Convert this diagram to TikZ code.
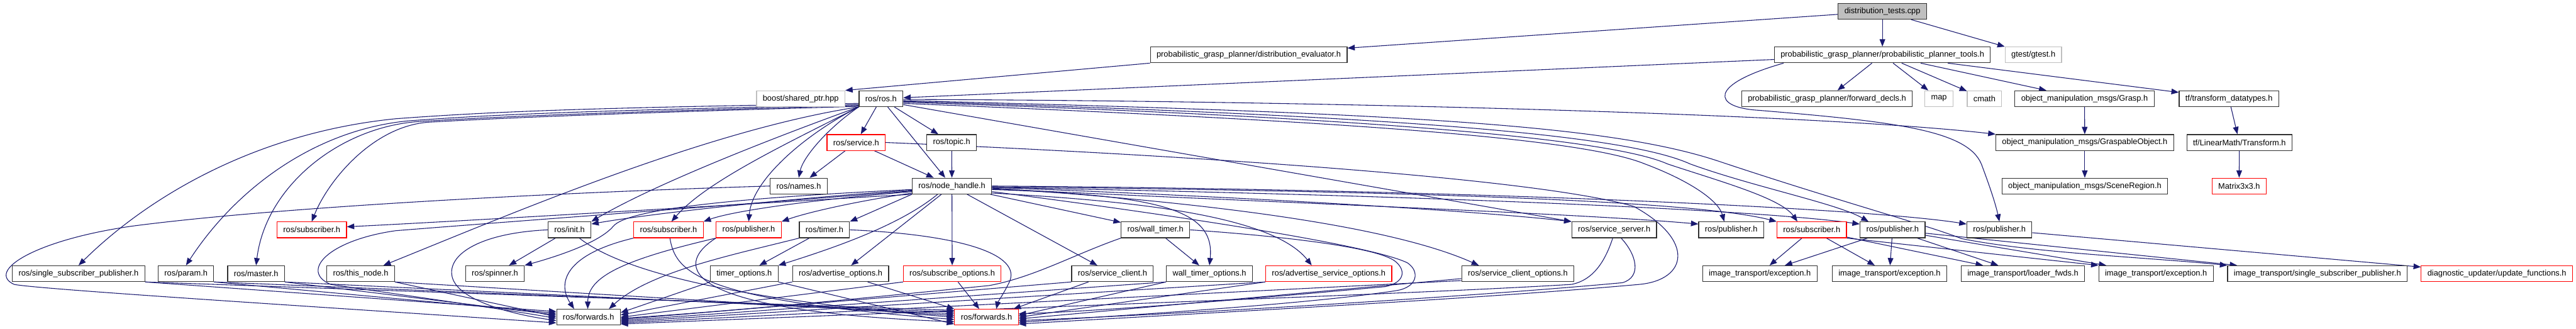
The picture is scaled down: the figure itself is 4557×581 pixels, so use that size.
\documentclass[tikz,border=0pt]{standalone}
\usepackage{fontspec}
\setmainfont{Liberation Sans}
\usetikzlibrary{arrows.meta}
\definecolor{edgeblue}{HTML}{191970}
\definecolor{boxred}{HTML}{FF0000}
\definecolor{boxgray}{HTML}{BFBFBF}
\definecolor{boxblack}{HTML}{303030}
\pgfdeclarelayer{bg}
\pgfsetlayers{bg,main}
\begin{document}
\begin{tikzpicture}[x=1pt,y=-1pt,
  nd/.style={draw=boxblack, line width=1.3pt, fill=white, minimum height=28pt, inner xsep=11pt, inner ysep=0pt, font=\fontsize{14.3}{16}\selectfont},
  rd/.style={nd, draw=boxred},
  gy/.style={nd, draw=boxgray},
  e/.style={draw=edgeblue, line width=1.2pt, -{Triangle[length=13pt,width=10pt]}}]
\useasboundingbox (0,0) rectangle (4557,581);
% rank 0
\node[nd, fill=boxgray] (dtests) at (3330,20) {distribution\_tests.cpp};
% rank 1
\node[nd] (disteval) at (2209,97) {probabilistic\_grasp\_planner/distribution\_evaluator.h};
\node[nd] (ptools) at (3330,97) {probabilistic\_grasp\_planner/probabilistic\_planner\_tools.h};
\node[gy] (gtest) at (3597,97) {gtest/gtest.h};
% rank 2
\node[gy] (boost) at (1416.5,174.5) {boost/shared\_ptr.hpp};
\node[nd] (rosh) at (1558.5,174.5) {ros/ros.h};
\node[nd] (fwdecl) at (3232,174.5) {probabilistic\_grasp\_planner/forward\_decls.h};
\node[gy] (map) at (3430,174.5) {map};
\node[gy] (cmath) at (3510.5,174.5) {cmath};
\node[nd] (grasp) at (3687.5,174.5) {object\_manipulation\_msgs/Grasp.h};
\node[nd] (tfdt) at (3943,174.5) {tf/transform\_datatypes.h};
% rank 3
\node[rd] (service) at (1514.5,252) {ros/service.h};
\node[nd] (topic) at (1683.5,252) {ros/topic.h};
\node[nd] (graspable) at (3688,252) {object\_manipulation\_msgs/GraspableObject.h};
\node[nd] (tflm) at (3961.5,252) {tf/LinearMath/Transform.h};
% rank 4
\node[nd] (names) at (1413,329) {ros/names.h};
\node[nd] (nh) at (1684,329) {ros/node\_handle.h};
\node[nd] (scene) at (3688,329) {object\_manipulation\_msgs/SceneRegion.h};
\node[rd] (matrix) at (3961,329) {Matrix3x3.h};
% rank 5
\node[rd] (subL) at (551.5,406.5) {ros/subscriber.h};
\node[nd] (init) at (1007.5,406.5) {ros/init.h};
\node[rd] (subM) at (1182.5,406.5) {ros/subscriber.h};
\node[rd] (pubM) at (1324.5,406.5) {ros/publisher.h};
\node[nd] (timer) at (1458.5,406.5) {ros/timer.h};
\node[nd] (walltimer) at (2044,406.5) {ros/wall\_timer.h};
\node[nd] (srvserver) at (2855.5,406.5) {ros/service\_server.h};
\node[nd] (pubA) at (3062.5,406.5) {ros/publisher.h};
\node[rd] (subR) at (3205,406.5) {ros/subscriber.h};
\node[nd] (pubB) at (3348,406.5) {ros/publisher.h};
\node[nd] (pubC) at (3537,406.5) {ros/publisher.h};
% rank 6
\node[nd] (ssp) at (139,484) {ros/single\_subscriber\_publisher.h};
\node[nd] (param) at (329,484) {ros/param.h};
\node[nd] (master) at (453,484) {ros/master.h};
\node[nd] (thisnode) at (638,484) {ros/this\_node.h};
\node[nd] (spinner) at (875.5,484) {ros/spinner.h};
\node[nd] (timeropt) at (1316.5,484) {timer\_options.h};
\node[nd] (advopt) at (1487,484) {ros/advertise\_options.h};
\node[rd] (subopt) at (1684.5,484) {ros/subscribe\_options.h};
\node[nd] (srvclient) at (1968,484) {ros/service\_client.h};
\node[nd] (wtopt) at (2139.5,484) {wall\_timer\_options.h};
\node[rd] (advsrvopt) at (2350.5,484) {ros/advertise\_service\_options.h};
\node[nd] (srvcliopt) at (2685,484) {ros/service\_client\_options.h};
\node[nd] (exc1) at (3113,484) {image\_transport/exception.h};
\node[nd] (exc2) at (3342.5,484) {image\_transport/exception.h};
\node[nd] (loader) at (3578.5,484) {image\_transport/loader\_fwds.h};
\node[nd] (exc4) at (3814,484) {image\_transport/exception.h};
\node[nd] (imgssp) at (4099.5,484) {image\_transport/single\_subscriber\_publisher.h};
\node[rd] (diag) at (4417,484) {diagnostic\_updater/update\_functions.h};
% rank 7
\node[nd] (fwdB) at (1041,561) {ros/forwards.h};
\node[rd] (fwdR) at (1745,561) {ros/forwards.h};

\begin{pgfonlayer}{bg}
\fill[white] (0,0) rectangle (4557,581);
% top part
\draw[e] (dtests) -- (disteval);
\draw[e] (dtests) -- (ptools);
\draw[e] (dtests) -- (gtest);
\draw[e] (disteval.south west) -- (boost.north east);
\draw[e] (ptools) -- (rosh);
\draw[e] (ptools) -- (fwdecl);
\draw[e] (ptools) -- (map);
\draw[e] (ptools) -- (cmath);
\draw[e] (ptools) -- (grasp);
\draw[e] (ptools) -- (tfdt);
\draw[e] (grasp) -- (graspable);
\draw[e] (graspable) -- (scene);
\draw[e] (tfdt) -- (tflm);
\draw[e] (tflm) -- (matrix);
\draw[e] ([xshift=17pt]ptools.south west) .. controls (3020,150) and (3030,190) .. (3110,195) .. controls (3350,215) and (3480,230) .. (3505,290) .. controls (3520,330) and (3530,360) .. (pubC.north);
% ros.h
\draw[e] (rosh) -- (service);
\draw[e] (rosh) -- (nh);
\draw[e] (rosh) -- (topic);
\draw[e] (rosh.-15) -- (srvserver.north west);
\draw[e] (rosh.-2) .. controls (2300,178) and (3200,200) .. (graspable.north west);
\draw[e] (rosh.-5) .. controls (2500,200) and (2850,222) .. (3040,285) .. controls (3250,355) and (3400,395) .. (3470,422) .. controls (3600,448) and (3800,455) .. (imgssp.north west);
\draw[e] (rosh.-7) .. controls (2500,205) and (2880,240) .. (2990,290) .. controls (3100,330) and (3250,360) .. (pubB.161);
\draw[e] (rosh.-9) .. controls (2500,210) and (2860,250) .. (2950,290) .. controls (3040,320) and (3150,350) .. (subR.150);
\draw[e] (rosh.-12) .. controls (2400,215) and (2800,245) .. (2910,290) .. controls (2990,320) and (3040,355) .. (pubA.130);
\draw[e] (rosh.192) .. controls (1100,190) and (900,195) .. (700,210) .. controls (450,235) and (260,350) .. (ssp.north);
\draw[e] (rosh.195) .. controls (1100,195) and (900,200) .. (720,214) .. controls (560,230) and (420,330) .. (param.north);
\draw[e] (rosh.197) .. controls (1100,198) and (900,205) .. (740,215) .. controls (600,225) and (470,330) .. (master.north);
\draw[e] (rosh.199) .. controls (1100,200) and (900,208) .. (760,216) .. controls (660,222) and (580,320) .. (subL.north);
\draw[e] (rosh.south west) .. controls (1250,230) and (900,380) .. (thisnode.20);
\draw[e] (rosh.south west) .. controls (1350,250) and (1150,330) .. (init.north east);
\draw[e] (rosh.south west) .. controls (1400,250) and (1250,320) .. (subM.70);
\draw[e] (rosh.south west) .. controls (1420,240) and (1330,320) .. (pubM.north);
\draw[e] (rosh.south west) .. controls (1460,230) and (1420,280) .. (names.north);
% service, topic
\draw[e] (service) -- (names);
\draw[e] (service) -- (nh);
\draw[e] (topic) -- (nh);
\draw[e] (service.east) .. controls (2000,270) and (2700,310) .. (2890,365) .. controls (3000,425) and (2985,495) .. (2900,503) .. controls (2600,530) and (2100,555) .. (fwdR.-12);
% node_handle
\draw[e] (nh.186) .. controls (1400,350) and (1150,378) .. (init.15);
\draw[e] (nh.188) .. controls (1450,352) and (1300,372) .. (subM.north east);
\draw[e] (nh.190) .. controls (1520,355) and (1430,375) .. (pubM.north east);
\draw[e] (nh.185) .. controls (1300,350) and (1110,370) .. (1085,400) .. controls (1060,430) and (980,455) .. (spinner.north east);
\draw[e] (nh.south west) .. controls (1200,368) and (800,392) .. (subL.5);
\draw[e] (nh.south west) -- (timer.north east);
\draw[e] (nh) -- (advopt);
\draw[e] (nh.-150) .. controls (1590,400) and (1470,440) .. (timeropt.north east);
\draw[e] (nh) -- (subopt);
\draw[e] (nh) -- (srvclient);
\draw[e] (nh) -- (walltimer);
\draw[e] (nh.-5) .. controls (2050,345) and (2150,370) .. (wtopt.north);
\draw[e] (nh.-10) .. controls (2000,355) and (2250,380) .. (advsrvopt.154);
\draw[e] (nh.-3) .. controls (2100,355) and (2450,395) .. (srvcliopt.168);
\draw[e] (nh.-2) .. controls (2200,348) and (2600,372) .. (srvserver.north west);
\draw[e] (nh.-4) .. controls (2300,360) and (2800,378) .. (pubA.170);
\draw[e] (nh.-1) .. controls (2500,338) and (3000,355) .. (subR.north west);
\draw[e] (nh.-2) .. controls (2500,345) and (3100,370) .. (pubB.170);
\draw[e] (nh.0) .. controls (2600,335) and (3300,368) .. (pubC.170);
\draw[e] (nh.187) .. controls (1200,370) and (900,392) .. (700,408) .. controls (580,425) and (530,480) .. (585,503) .. controls (700,520) and (880,545) .. (fwdB.182);
\draw[e] (nh.-8) .. controls (2000,370) and (2420,430) .. (2490,465) .. controls (2512,480) and (2508,508) .. (2470,514) .. controls (2300,540) and (1950,560) .. (fwdR.-9);
% names
\draw[e] (names.west) .. controls (1000,340) and (500,365) .. (233,400) .. controls (60,425) and (-25,480) .. (25,503) .. controls (70,512) and (600,545) .. (fwdB.190);
% init
\draw[e] (init) -- (spinner);
\draw[e] (init.west) .. controls (850,412) and (790,450) .. (800,490) .. controls (810,530) and (900,555) .. (fwdB.186);
\draw[e] (init.-40) .. controls (1100,480) and (1300,530) .. (fwdR.180);
% subscriber / publisher (middle)
\draw[e] (subM.south west) .. controls (1000,450) and (985,500) .. (fwdB.150);
\draw[e] (subM.-80) .. controls (1195,480) and (1230,530) .. (fwdR.184);
\draw[e] (pubM.south west) .. controls (1100,460) and (1040,490) .. (fwdB.95);
\draw[e] (pubM.south west) .. controls (1190,470) and (1200,550) .. (fwdR.188);
% timer
\draw[e] (timer) -- (timeropt);
\draw[e] (timer.south west) .. controls (1300,450) and (1150,480) .. (fwdB.22);
\draw[e] (timer.east) .. controls (1700,415) and (1810,450) .. (1785,500) .. controls (1775,520) and (1765,535) .. (fwdR.40);
% wall timer
\draw[e] (walltimer) -- (wtopt);
\draw[e] (walltimer.south west) .. controls (1900,450) and (1830,490) .. (1750,505) .. controls (1500,530) and (1300,550) .. (fwdB.-2);
\draw[e] (walltimer.east) .. controls (2300,420) and (2440,440) .. (2468,462) .. controls (2488,478) and (2485,500) .. (2450,507) .. controls (2200,530) and (1950,550) .. (fwdR.6);
% service server
\draw[e] (srvserver.-100) .. controls (2840,460) and (2820,495) .. (2780,503) .. controls (2500,520) and (1900,540) .. (fwdB.-12);
\draw[e] (srvserver.-50) .. controls (2895,450) and (2905,490) .. (2870,500) .. controls (2600,525) and (2100,555) .. (fwdR.-6);
% left leaves
\draw[e] (ssp.south east) -- (fwdB.170);
\draw[e] (ssp.south east) -- (fwdR.168);
\draw[e] (param.south east) -- (fwdB.173);
\draw[e] (param.south east) -- (fwdR.171);
\draw[e] (master.south east) -- (fwdB.176);
\draw[e] (master.south east) -- (fwdR.174);
\draw[e] (thisnode.south east) -- (fwdB.179);
\draw[e] (thisnode.south east) -- (fwdR.177);
% row 6 options
\draw[e] (timeropt.south west) -- (fwdB.8);
\draw[e] (timeropt.south east) -- (fwdR.192);
\draw[e] (advopt.south west) -- (fwdB.4);
\draw[e] (advopt.-17) -- (fwdR.north west);
\draw[e] (subopt.south west) -- (fwdB.0);
\draw[e] (subopt.-55) -- (fwdR.131);
\draw[e] (srvclient.south west) -- (fwdB.-4);
\draw[e] (srvclient.-161) -- (fwdR.17);
\draw[e] (wtopt.south west) -- (fwdB.-6);
\draw[e] (wtopt.south west) -- (fwdR.3);
\draw[e] (advsrvopt.south west) -- (fwdB.-8);
\draw[e] (advsrvopt.south west) -- (fwdR.0);
\draw[e] (srvcliopt.187) -- (fwdB.-10);
\draw[e] (srvcliopt.185) -- (fwdR.-3);
% image transport group
\draw[e] (subR) -- (exc1);
\draw[e] (subR) -- (exc2);
\draw[e] (subR) -- (loader);
\draw[e] (subR.south east) -- (exc4.north west);
\draw[e] (pubB) -- (exc1);
\draw[e] (pubB) -- (exc2);
\draw[e] (pubB) -- (loader);
\draw[e] (pubB) -- (exc4);
\draw[e] (pubB) -- (imgssp);
\draw[e] (pubC) -- (diag);
\end{pgfonlayer}
\end{tikzpicture}
\end{document}
